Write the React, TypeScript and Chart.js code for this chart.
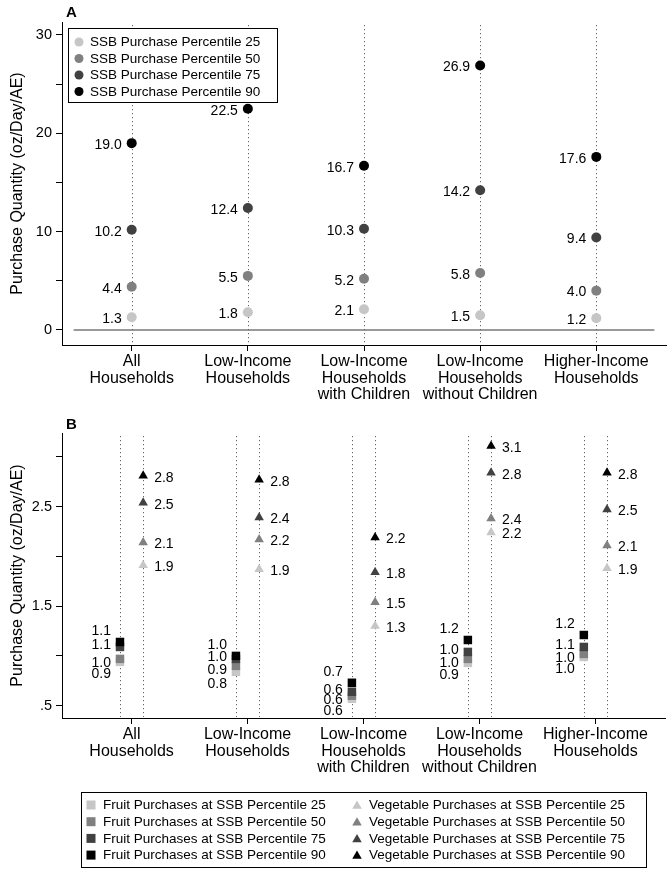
import React, { useEffect, useRef } from 'react';
import { Chart, registerables } from 'chart.js';
Chart.register(...registerables);

const FONT = '"Liberation Sans", Arial, Helvetica, sans-serif';

// ---- data ----
const categories: string[][] = [
  ['All', 'Households'],
  ['Low-Income', 'Households'],
  ['Low-Income', 'Households', 'with Children'],
  ['Low-Income', 'Households', 'without Children'],
  ['Higher-Income', 'Households'],
];
const percentiles = [25, 50, 75, 90];

const ssbP25 = [1.3, 1.8, 2.1, 1.5, 1.2];
const ssbP50 = [4.4, 5.5, 5.2, 5.8, 4.0];
const ssbP75 = [10.2, 12.4, 10.3, 14.2, 9.4];
const ssbP90 = [19.0, 22.5, 16.7, 26.9, 17.6];

const fruitP25 = [0.94, 0.84, 0.57, 0.93, 0.99];
const fruitP50 = [0.97, 0.9, 0.6, 0.97, 1.02];
const fruitP75 = [1.09, 0.97, 0.64, 1.04, 1.09];
const fruitP90 = [1.14, 1.0, 0.73, 1.16, 1.21];

const vegP25 = [1.91, 1.87, 1.3, 2.24, 1.88];
const vegP50 = [2.14, 2.17, 1.54, 2.38, 2.11];
const vegP75 = [2.54, 2.39, 1.84, 2.84, 2.47];
const vegP90 = [2.81, 2.77, 2.19, 3.11, 2.84];

const panelATickLabels = [0, 10, 20, 30];
const panelBTickLabels = [0.5, 1.5, 2.5];

// ---- styles ----
const shades = ['#c6c6c6', '#808080', '#414141', '#000000'];
const fruitLabelDy = [12, 4, -2, -11];
const yTitle = 'Purchase Quantity (oz/Day/AE)';

const ssbSeries = [ssbP25, ssbP50, ssbP75, ssbP90];
const fruitSeries = [fruitP25, fruitP50, fruitP75, fruitP90];
const vegSeries = [vegP25, vegP50, vegP75, vegP90];

function xScale(height: number) {
  return {
    type: 'linear',
    min: 0.4,
    max: 5.6,
    afterBuildTicks: (s: any) => {
      s.ticks = categories.map((_, i) => ({ value: i + 1 }));
    },
    afterFit: (s: any) => {
      s.height = height;
    },
    ticks: {
      autoSkip: false,
      maxRotation: 0,
      minRotation: 0,
      color: '#000',
      padding: 2,
      font: { family: FONT, size: 16, lineHeight: 1.05 },
      callback: (v: number) => categories[Math.round(v) - 1] ?? '',
    },
    grid: { drawOnChartArea: false, drawTicks: true, tickLength: 6, color: '#000', lineWidth: 1 },
    border: { display: true, color: '#000', width: 1 },
  };
}

function yScale(min: number, max: number, step: number, fmt: (v: number) => string) {
  return {
    type: 'linear',
    min,
    max,
    afterFit: (s: any) => {
      s.width = 54;
    },
    ticks: {
      stepSize: step,
      includeBounds: false,
      autoSkip: false,
      color: '#000',
      padding: 4,
      font: { family: FONT, size: 14.5 },
      callback: (v: number) => fmt(v),
    },
    grid: { drawOnChartArea: false, drawTicks: true, tickLength: 6, color: '#000', lineWidth: 1 },
    border: { display: true, color: '#000', width: 1 },
    title: {
      display: true,
      text: yTitle,
      color: '#000',
      font: { family: FONT, size: 16 },
      padding: { top: 0, bottom: 0 },
    },
  };
}

function dottedLines(chart: any, offsets: number[]) {
  const { ctx, chartArea, scales } = chart;
  ctx.save();
  ctx.setLineDash([1.2, 2.8]);
  ctx.lineWidth = 1;
  ctx.strokeStyle = '#666';
  categories.forEach((_, i) => {
    offsets.forEach((o) => {
      const px = Math.round(scales.x.getPixelForValue(i + 1 + o)) + 0.5;
      ctx.beginPath();
      ctx.moveTo(px, chartArea.top + 3);
      ctx.lineTo(px, chartArea.bottom - 1);
      ctx.stroke();
    });
  });
  ctx.restore();
}

const panelAPlugin = {
  id: 'panelA',
  beforeDatasetsDraw(chart: any) {
    const { ctx, scales } = chart;
    ctx.save();
    const y0 = scales.y.getPixelForValue(0);
    ctx.strokeStyle = '#9a9a9a';
    ctx.lineWidth = 2;
    ctx.beginPath();
    ctx.moveTo(scales.x.getPixelForValue(0.5), y0);
    ctx.lineTo(scales.x.getPixelForValue(5.5), y0);
    ctx.stroke();
    ctx.restore();
    dottedLines(chart, [0]);
  },
  afterDatasetsDraw(chart: any) {
    const { ctx } = chart;
    ctx.save();
    ctx.font = `14px ${FONT}`;
    ctx.fillStyle = '#000';
    ctx.textAlign = 'right';
    ctx.textBaseline = 'middle';
    chart.data.datasets.forEach((ds: any, di: number) => {
      const meta = chart.getDatasetMeta(di);
      meta.data.forEach((el: any, i: number) => {
        ctx.fillText(ds.data[i].y.toFixed(1), el.x - 10, el.y + 2);
      });
    });
    // legend
    ctx.fillStyle = '#fff';
    ctx.fillRect(68.5, 28.5, 209, 74);
    ctx.strokeStyle = '#000';
    ctx.lineWidth = 1;
    ctx.strokeRect(68.5, 28.5, 209, 74);
    ctx.textAlign = 'left';
    ctx.font = `13.5px ${FONT}`;
    percentiles.forEach((p, k) => {
      const yy = 42 + k * 16.5;
      ctx.fillStyle = shades[k];
      ctx.beginPath();
      ctx.arc(79, yy, 4.5, 0, Math.PI * 2);
      ctx.fill();
      ctx.fillStyle = '#000';
      ctx.fillText(`SSB Purchase Percentile ${p}`, 90, yy + 0.5);
    });
    ctx.font = `bold 15px ${FONT}`;
    ctx.fillText('A', 66, 13);
    ctx.restore();
  },
};

function drawTri(ctx: any, x: number, y: number, r: number) {
  ctx.beginPath();
  ctx.moveTo(x, y - r);
  ctx.lineTo(x + r * 0.866, y + r / 2);
  ctx.lineTo(x - r * 0.866, y + r / 2);
  ctx.closePath();
  ctx.fill();
}

const panelBPlugin = {
  id: 'panelB',
  beforeDatasetsDraw(chart: any) {
    dottedLines(chart, [-0.1, 0.1]);
  },
  afterDatasetsDraw(chart: any) {
    const { ctx } = chart;
    ctx.save();
    ctx.font = `14px ${FONT}`;
    ctx.fillStyle = '#000';
    ctx.textBaseline = 'middle';
    chart.data.datasets.forEach((ds: any, di: number) => {
      const meta = chart.getDatasetMeta(di);
      const isFruit = ds.kind === 'fruit';
      ctx.textAlign = isFruit ? 'right' : 'left';
      meta.data.forEach((el: any, i: number) => {
        const t = ds.data[i].y.toFixed(1);
        if (isFruit) ctx.fillText(t, el.x - 9, el.y + fruitLabelDy[ds.pIndex]);
        else ctx.fillText(t, el.x + 11, el.y + 2);
      });
    });
    ctx.restore();
  },
  afterDraw(chart: any) {
    const { ctx } = chart;
    ctx.save();
    ctx.fillStyle = '#fff';
    ctx.fillRect(81.5, 382.5, 565, 75);
    ctx.strokeStyle = '#000';
    ctx.lineWidth = 1;
    ctx.strokeRect(81.5, 382.5, 565, 75);
    ctx.font = `13.5px ${FONT}`;
    ctx.textAlign = 'left';
    ctx.textBaseline = 'middle';
    percentiles.forEach((p, k) => {
      const yy = 395 + k * 16.7;
      ctx.fillStyle = shades[k];
      ctx.fillRect(86.5, yy - 4.5, 9, 9);
      drawTri(ctx, 357, yy + 1, 5.5);
      ctx.fillStyle = '#000';
      ctx.fillText(`Fruit Purchases at SSB Percentile ${p}`, 103, yy + 0.5);
      ctx.fillText(`Vegetable Purchases at SSB Percentile ${p}`, 369, yy + 0.5);
    });
    ctx.font = `bold 15px ${FONT}`;
    ctx.fillText('B', 66, 15);
    ctx.restore();
  },
};

function configA(): any {
  return {
    type: 'scatter',
    data: {
      datasets: ssbSeries.map((vals, k) => ({
        label: `SSB Purchase Percentile ${percentiles[k]}`,
        data: vals.map((v, i) => ({ x: i + 1, y: v })),
        backgroundColor: shades[k],
        borderWidth: 0,
        pointRadius: 5,
        pointHoverRadius: 5,
        pointStyle: 'circle',
        order: 4 - k,
      })),
    },
    options: {
      responsive: false,
      animation: false,
      events: [],
      layout: { padding: { left: 8, right: 4, top: 22, bottom: 0 } },
      plugins: { legend: { display: false }, tooltip: { enabled: false } },
      scales: {
        x: xScale(65),
        y: yScale(-1.53, 31.32, 5, (v) => (panelATickLabels.includes(Math.round(v)) ? String(Math.round(v)) : '')),
      },
    },
    plugins: [panelAPlugin],
  };
}

function configB(): any {
  const fruit = fruitSeries.map((vals, k) => ({
    label: `Fruit Purchases at SSB Percentile ${percentiles[k]}`,
    kind: 'fruit',
    pIndex: k,
    data: vals.map((v, i) => ({ x: i + 1 - 0.1, y: v })),
    backgroundColor: shades[k],
    borderWidth: 0,
    pointRadius: 6,
    pointHoverRadius: 6,
    pointStyle: 'rect',
    order: 4 - k,
  }));
  const veg = vegSeries.map((vals, k) => ({
    label: `Vegetable Purchases at SSB Percentile ${percentiles[k]}`,
    kind: 'veg',
    pIndex: k,
    data: vals.map((v, i) => ({ x: i + 1 + 0.1, y: v })),
    backgroundColor: shades[k],
    borderWidth: 0,
    pointRadius: 5.5,
    pointHoverRadius: 5.5,
    pointStyle: 'triangle',
    order: 4 - k,
  }));
  return {
    type: 'scatter',
    data: { datasets: [...fruit, ...veg] },
    options: {
      responsive: false,
      animation: false,
      events: [],
      layout: { padding: { left: 8, right: 4, top: 23, bottom: 95 } },
      plugins: { legend: { display: false }, tooltip: { enabled: false } },
      scales: {
        x: xScale(60),
        y: yScale(0.376, 3.24, 0.5, (v) => {
          const r = Math.round(v * 10) / 10;
          return panelBTickLabels.includes(r) ? r.toFixed(1).replace(/^0/, '') : '';
        }),
      },
    },
    plugins: [panelBPlugin],
  };
}

export default function App() {
  const refA = useRef<HTMLCanvasElement>(null);
  const refB = useRef<HTMLCanvasElement>(null);
  useEffect(() => {
    const a = new Chart(refA.current as HTMLCanvasElement, configA());
    const b = new Chart(refB.current as HTMLCanvasElement, configB());
    return () => {
      a.destroy();
      b.destroy();
    };
  }, []);
  return (
    <div style={{ position: 'absolute', left: 0, top: 0, width: 671, height: 873, background: '#fff' }}>
      <canvas ref={refA} width={671} height={410} style={{ position: 'absolute', left: 0, top: 0 }} />
      <canvas ref={refB} width={671} height={463} style={{ position: 'absolute', left: 0, top: 410 }} />
    </div>
  );
}
